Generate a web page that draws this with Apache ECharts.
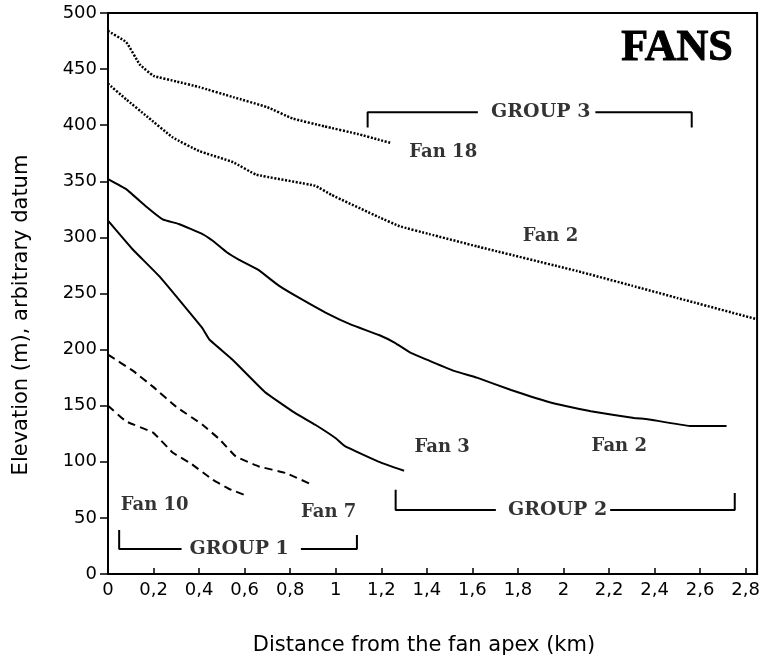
<!DOCTYPE html>
<html>
<head>
<meta charset="utf-8">
<script src="https://cdn.jsdelivr.net/npm/echarts@6/dist/echarts.min.js"></script>
<style>html,body{margin:0;padding:0;background:#fff}#c{width:763px;height:663px}</style>
</head>
<body>
<div id="c"></div>
<script>
// ---- data (distance km, elevation m) ----
var fan18 = [[0,484],[0.08,474],[0.14,454],[0.2,444],[0.3,439],[0.4,434],[0.55,425],[0.7,416],[0.81,406],[0.95,399],[1.1,392],[1.19,387],[1.245,384]];
var fan2Upper = [[0,437],[0.08,423],[0.17,408],[0.285,389],[0.4,377],[0.55,367],[0.65,356],[0.91,346],[0.98,338],[1.19,318],[1.28,310],[1.41,303],[1.62,292],[2.06,270],[2.3,257],[2.5,246],[2.85,227]];
var fan2Lower = [[0,352],[0.08,343],[0.17,327],[0.24,316],[0.31,312],[0.415,303],[0.46,297],[0.52,287],[0.576,280],[0.66,271],[0.75,257],[0.84,246],[0.955,233],[1.07,222],[1.19,213],[1.26,206],[1.33,197],[1.52,181],[1.62,175],[1.77,164],[1.96,152],[2.12,145],[2.31,139],[2.37,138],[2.555,132],[2.716,132]];
var fan3 = [[0,315],[0.11,289],[0.227,265],[0.415,219],[0.445,209],[0.547,191],[0.69,162],[0.81,145],[0.91,133],[1.0,121],[1.04,114],[1.19,100],[1.30,92]];
var fan7 = [[0,195.5],[0.11,181],[0.197,167],[0.30,149],[0.415,133],[0.49,120],[0.56,105],[0.66,96],[0.78,90],[0.897,79.5]];
var fan10 = [[0,150],[0.08,136],[0.198,126],[0.285,108],[0.36,99],[0.46,84],[0.53,76],[0.606,70]];

// brackets: [x, y] points, '-' breaks for the text gap
var group1Bracket = [[0.049,39.3],[0.049,22.3],[0.323,22.3],'-',[0.847,22.3],[1.093,22.3],[1.093,34.8]];
var group2Bracket = [[1.263,75],[1.263,57.1],[1.703,57.1],'-',[2.205,57.1],[2.752,57.1],[2.752,72.3]];
var group3Bracket = [[1.14,398],[1.14,411.6],[1.624,411.6],'-',[2.140,411.6],[2.563,411.6],[2.563,398]];
var groupLabels = [[0.576,22.3,'GROUP 1'],[1.974,57.1,'GROUP 2'],[1.90,411.6,'GROUP 3']];
var fanLabels = [[1.472,376,'Fan 18'],[1.943,301,'Fan 2'],[1.467,112.5,'Fan 3'],[2.245,113.4,'Fan 2'],[0.205,61.6,'Fan 10'],[0.969,55.4,'Fan 7']];
var titleText = 'FANS';
var xTitle = 'Distance from the fan apex (km)';
var yTitle = 'Elevation (m), arbitrary datum';

var chart = echarts.init(document.getElementById('c'), null, {renderer:'canvas'});
var black = '#000';
function line(data, type, width) {
  var t = type === 'dot' ? [2,1.6] : (type === 'dash' ? [8,5] : 'solid');
  return {type:'line', data:data, showSymbol:false, symbol:'none', smooth:0.1, silent:true,
    lineStyle:{color:black, width:width, type:t}};
}
function bracket(data) {
  return {type:'line', data:data, showSymbol:false, symbol:'none', connectNulls:false, silent:true,
    lineStyle:{color:black, width:2}};
}
var labelBase = {show:true, position:'inside', color:black, textBorderWidth:0, textBorderColor:'transparent',
  fontFamily:'DejaVu Serif', fontWeight:'bold'};
chart.setOption({
  animation:false,
  grid:{left:108, right:2, top:13, bottom:89, show:true, borderColor:black, borderWidth:2, backgroundColor:'#fff'},
  xAxis:{type:'value', min:0, max:2.85, interval:0.2,
    axisLine:{lineStyle:{color:black, width:2}},
    axisTick:{inside:true, length:6, lineStyle:{color:black, width:1.5}},
    axisLabel:{color:black, fontFamily:'DejaVu Sans', fontSize:18, margin:7, showMaxLabel:false,
      formatter:function(v){ return String(+v.toFixed(1)).replace('.', ','); }},
    splitLine:{show:false}},
  yAxis:{type:'value', min:0, max:500, interval:50,
    axisLine:{lineStyle:{color:black, width:2}},
    axisTick:{inside:false, length:8, lineStyle:{color:black, width:1.5}},
    axisLabel:{color:black, fontFamily:'DejaVu Sans', fontSize:18, margin:11},
    splitLine:{show:false}},
  graphic:[
    {type:'text', x:677, y:49, style:{text:titleText, font:'bold 44px "Liberation Serif"', fill:black, stroke:black, lineWidth:1, align:'center', verticalAlign:'middle'}},
    {type:'text', x:424, y:646, style:{text:xTitle, font:'21px "DejaVu Sans"', fill:black, align:'center', verticalAlign:'middle'}},
    {type:'text', x:22, y:315, rotation:Math.PI/2, style:{text:yTitle, font:'21px "DejaVu Sans"', fill:black, align:'center', verticalAlign:'middle'}}
  ],
  series:[
    line(fan18,'dot',2.5),
    line(fan2Upper,'dot',2.5),
    line(fan2Lower,'solid',2),
    line(fan3,'solid',2),
    line(fan7,'dash',2),
    line(fan10,'dash',2),
    bracket(group1Bracket),
    bracket(group2Bracket),
    bracket(group3Bracket),
    {type:'scatter', data:groupLabels, symbolSize:0, silent:true, itemStyle:{color:black},
      label:Object.assign({}, labelBase, {fontSize:19, formatter:function(p){return p.data[2];}})},
    {type:'scatter', data:fanLabels, symbolSize:0, silent:true, itemStyle:{color:black},
      label:Object.assign({}, labelBase, {fontSize:18, formatter:function(p){return p.data[2];}})}
  ]
});
</script>
</body>
</html>
